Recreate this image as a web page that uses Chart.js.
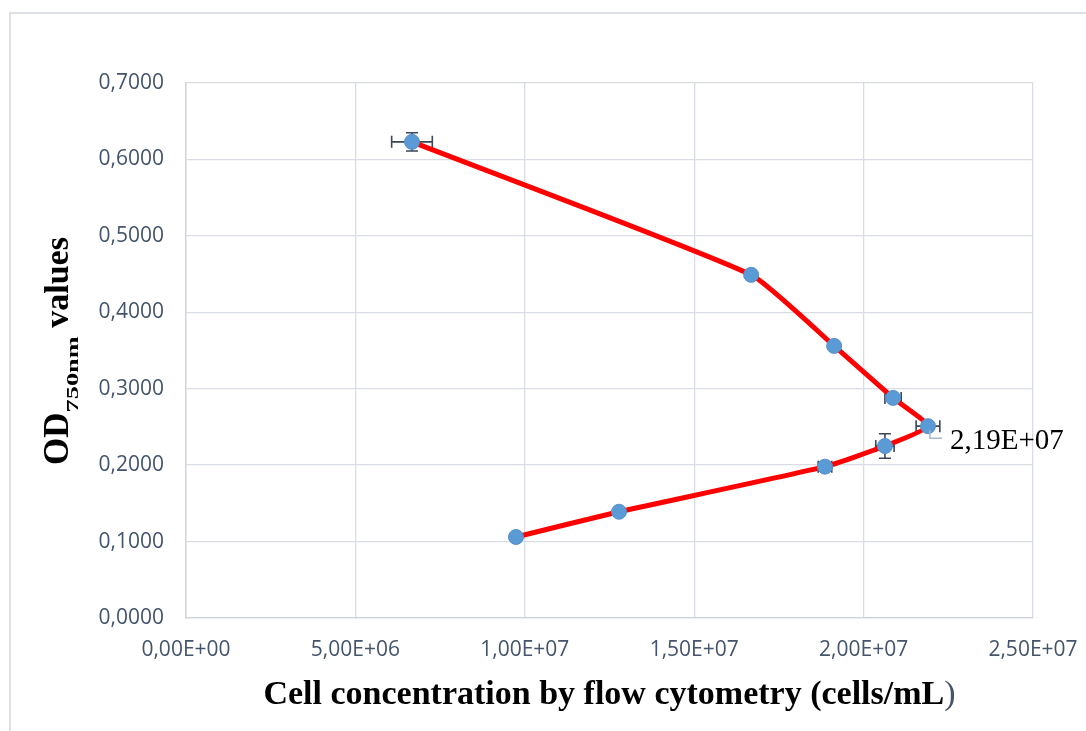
<!DOCTYPE html>
<html>
<head>
<meta charset="utf-8">
<title>OD750 vs cell concentration</title>
<script src="https://cdn.jsdelivr.net/npm/chart.js@4.4.1/dist/chart.umd.min.js"></script>
<style>
    html, body { margin: 0; padding: 0; background: #ffffff; }
    #wrap { position: relative; width: 1086px; height: 731px; }
</style>
</head>
<body>
<div id="wrap"><canvas id="chart"></canvas></div>
<script>
// cell counts (cells/mL) and OD750 readings, in sampling order
const cellConc = [6.67e6, 1.668e7, 1.913e7, 2.087e7, 2.19e7, 2.063e7, 1.886e7, 1.278e7, 9.74e6];
const odValues = [0.623, 0.449, 0.356, 0.288, 0.251, 0.225, 0.198, 0.139, 0.106];
// standard deviations
const cellErr = [6.0e5, 0, 0, 2.4e5, 3.5e5, 2.7e5, 2.0e5, 0, 0];
const odErr = [0.012, 0, 0, 0, 0, 0.016, 0, 0, 0];
// index of the point carrying a data label
const labelledPoint = 4;

const xTitle = 'Cell concentration by flow cytometry (cells/mL';

function sci(v) {
    if (v === 0) return '0,00E+00';
    const e = Math.floor(Math.log10(v));
    const m = v / Math.pow(10, e);
    return m.toFixed(2).replace('.', ',') + 'E+' + String(e).padStart(2, '0');
}

const tickColor = '#44546a';
const gridColor = '#d9dde3';

const errorBars = {
    id: 'errorBars',
    beforeDatasetsDraw(chart) {
        const ctx = chart.ctx;
        const xs = chart.scales.x, ys = chart.scales.y;
        ctx.save();
        ctx.strokeStyle = '#3b4656';
        ctx.lineWidth = 1.6;
        const cap = 6;
        cellConc.forEach((cx, i) => {
            const px = xs.getPixelForValue(cx);
            const py = ys.getPixelForValue(odValues[i]);
            if (cellErr[i] > 0) {
                const x1 = xs.getPixelForValue(cx - cellErr[i]);
                const x2 = xs.getPixelForValue(cx + cellErr[i]);
                ctx.beginPath();
                ctx.moveTo(x1, py); ctx.lineTo(x2, py);
                ctx.moveTo(x1, py - cap); ctx.lineTo(x1, py + cap);
                ctx.moveTo(x2, py - cap); ctx.lineTo(x2, py + cap);
                ctx.stroke();
            }
            if (odErr[i] > 0) {
                const y1 = ys.getPixelForValue(odValues[i] - odErr[i]);
                const y2 = ys.getPixelForValue(odValues[i] + odErr[i]);
                ctx.beginPath();
                ctx.moveTo(px, y1); ctx.lineTo(px, y2);
                ctx.moveTo(px - cap, y1); ctx.lineTo(px + cap, y1);
                ctx.moveTo(px - cap, y2); ctx.lineTo(px + cap, y2);
                ctx.stroke();
            }
        });
        ctx.restore();
    }
};

const decorations = {
    id: 'decorations',
    beforeDraw(chart) {
        const ctx = chart.ctx;
        ctx.save();
        ctx.strokeStyle = '#dde1e6';
        ctx.lineWidth = 2;
        ctx.strokeRect(10, 13, 1200, 800);
        ctx.restore();
    },
    afterDraw(chart) {
        const ctx = chart.ctx;
        const xs = chart.scales.x, ys = chart.scales.y;
        ctx.save();

        // x axis title, closing bracket in lighter weight
        ctx.textBaseline = 'alphabetic';
        ctx.font = 'bold 34px "Liberation Serif"';
        const w1 = ctx.measureText(xTitle).width;
        ctx.font = '34px "Liberation Serif"';
        const w2 = ctx.measureText(')').width;
        const cx = (chart.chartArea.left + chart.chartArea.right) / 2;
        let x0 = cx - (w1 + w2) / 2;
        ctx.fillStyle = '#000000';
        ctx.font = 'bold 34px "Liberation Serif"';
        ctx.fillText(xTitle, x0, 704);
        ctx.fillStyle = tickColor;
        ctx.font = '34px "Liberation Serif"';
        ctx.fillText(')', x0 + w1, 704);

        // y axis title: OD with a stretched subscript, then "values"
        ctx.translate(68, 351);
        ctx.rotate(-Math.PI / 2);
        ctx.fillStyle = '#000000';
        const parts = [
            { t: 'OD', f: 'bold 35px "Liberation Serif"', dy: 0, sx: 1 },
            { t: '750nm', f: 'bold 17px "Liberation Serif"', dy: 10, sx: 1.55 },
            { t: ' values', f: 'bold 34px "Liberation Serif"', dy: 0, sx: 1 }
        ];
        let total = 0;
        parts.forEach(p => { ctx.font = p.f; p.w = ctx.measureText(p.t).width * p.sx; total += p.w; });
        let px = -total / 2;
        parts.forEach(p => {
            ctx.save();
            ctx.font = p.f;
            ctx.translate(px, p.dy);
            ctx.scale(p.sx, 1);
            ctx.fillText(p.t, 0, 0);
            ctx.restore();
            px += p.w;
        });
        ctx.restore();

        // data label with leader line
        const lx = xs.getPixelForValue(cellConc[labelledPoint]);
        const ly = ys.getPixelForValue(odValues[labelledPoint]);
        ctx.save();
        ctx.strokeStyle = '#a9b8c9';
        ctx.lineWidth = 1.5;
        ctx.beginPath();
        ctx.moveTo(lx + 2, ly + 4);
        ctx.lineTo(lx + 2, ly + 12);
        ctx.lineTo(lx + 14, ly + 12);
        ctx.stroke();
        ctx.fillStyle = '#000000';
        ctx.font = '29px "Liberation Serif"';
        ctx.textBaseline = 'middle';
        ctx.fillText(sci(cellConc[labelledPoint]), lx + 22, ly + 15);
        ctx.restore();
    }
};

new Chart(document.getElementById('chart'), {
    type: 'scatter',
    data: {
        datasets: [{
            data: cellConc.map((x, i) => ({ x: x, y: odValues[i] })),
            showLine: true,
            tension: 0.15,
            borderColor: '#ff0000',
            borderWidth: 5,
            pointRadius: 7.5,
            pointBackgroundColor: '#5b9bd5',
            pointBorderColor: '#5690cc',
            pointBorderWidth: 1
        }]
    },
    options: {
        responsive: true,
        maintainAspectRatio: false,
        animation: false,
        layout: { padding: { top: 83, right: 53, left: 0, bottom: 0 } },
        plugins: {
            legend: { display: false },
            tooltip: { enabled: false }
        },
        scales: {
            x: {
                type: 'linear',
                min: 0,
                max: 2.5e7,
                afterFit(scale) {
                    scale.height = 113;
                    // end labels may overhang; keep the plot edges fixed
                    scale.paddingLeft = 0;
                    scale.paddingRight = 0;
                },
                ticks: {
                    stepSize: 5e6,
                    padding: 19,
                    color: tickColor,
                    font: { family: '"Open Sans"', size: 21 },
                    maxRotation: 0,
                    callback: v => sci(v)
                },
                grid: { color: gridColor, lineWidth: 1.3, drawTicks: false },
                border: { color: '#cdd3da', width: 1.3 }
            },
            y: {
                type: 'linear',
                min: 0,
                max: 0.7,
                afterFit(scale) {
                    scale.width = 186;
                    scale.paddingTop = 0;
                    scale.paddingBottom = 0;
                },
                ticks: {
                    stepSize: 0.1,
                    padding: 22,
                    color: tickColor,
                    font: { family: '"Open Sans"', size: 21 },
                    callback: v => v.toFixed(4).replace('.', ',')
                },
                grid: { color: gridColor, lineWidth: 1.3, drawTicks: false },
                border: { color: '#cdd3da', width: 1.3 }
            }
        }
    },
    plugins: [errorBars, decorations]
});
</script>
</body>
</html>
